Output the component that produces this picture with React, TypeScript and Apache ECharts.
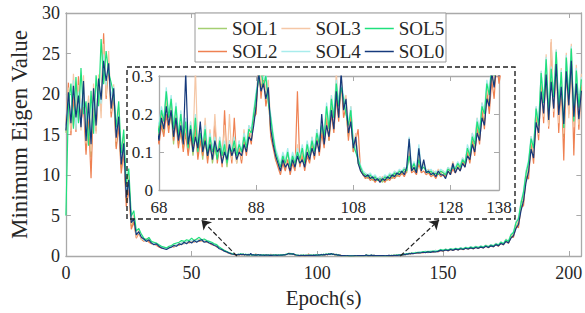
import { useEffect, useRef } from 'react';
import * as echarts from 'echarts';

// ---- x sampling (epochs) ----
const earlyEpochs = Array.from({ length: 68 }, (_, i) => i); // 0..67
const midEpochs = Array.from({ length: 141 }, (_, i) => 68 + i * 0.5); // 68..138 step 0.5
const lateEpochs = Array.from({ length: 67 }, (_, i) => 139 + i); // 139..205
const epochs = [...earlyEpochs, ...midEpochs, ...lateEpochs];

// ---- tick labels ----
const mainXTicks = [0, 50, 100, 150, 200];
const insetXTicks = [68, 88, 108, 128, 138];
const insetYTicks = [0, 0.1, 0.2, 0.3];

// ---- SOL1 ----
const sol1Early = [
  15.2, 18.9, 15.8, 20.1, 16.6, 20.7, 16.2, 20.9, 13.1, 19.4,
  12.2, 19.9, 15.8, 21.2, 17.9, 25.6, 20.1, 24.0, 17.6, 20.3,
  13.5, 16.6, 10.8, 13.2, 6.9, 8.8, 3.7, 4.4, 2.4, 2.9,
  2.2, 2.0, 1.9, 1.9, 1.7, 1.5, 1.4, 1.3, 1.1, 1.0,
  0.9, 1.05, 1.2, 1.25, 1.3, 1.45, 1.5, 1.6, 1.7, 1.7,
  1.8, 1.8, 1.85, 2.0, 1.9, 1.9, 1.75, 1.7, 1.55, 1.4,
  1.25, 1.0, 0.85, 0.62, 0.5, 0.36, 0.26, 0.19,
];
const sol1Mid = [
  0.14, 0.18, 0.15, 0.24, 0.16, 0.20, 0.12, 0.20, 0.12, 0.15,
  0.11, 0.16, 0.10, 0.15, 0.09, 0.15, 0.09, 0.14, 0.08, 0.14,
  0.08, 0.13, 0.07, 0.11, 0.08, 0.12, 0.08, 0.11, 0.06, 0.12,
  0.08, 0.12, 0.07, 0.11, 0.08, 0.13, 0.10, 0.15, 0.14, 0.18,
  0.23, 0.30, 0.27, 0.30, 0.25, 0.25, 0.15, 0.13, 0.08, 0.065,
  0.05, 0.075, 0.055, 0.08, 0.05, 0.08, 0.055, 0.09, 0.065, 0.10,
  0.06, 0.10, 0.075, 0.12, 0.085, 0.14, 0.10, 0.16, 0.12, 0.20,
  0.13, 0.22, 0.16, 0.27, 0.20, 0.28, 0.22, 0.21, 0.14, 0.19,
  0.10, 0.12, 0.07, 0.055, 0.04, 0.035, 0.03, 0.035, 0.025, 0.03,
  0.025, 0.03, 0.02, 0.03, 0.025, 0.035, 0.03, 0.04, 0.035, 0.045,
  0.04, 0.05, 0.045, 0.11, 0.05, 0.055, 0.045, 0.09, 0.05, 0.07,
  0.045, 0.05, 0.04, 0.05, 0.04, 0.045, 0.04, 0.05, 0.035, 0.05,
  0.045, 0.065, 0.05, 0.065, 0.055, 0.08, 0.065, 0.10, 0.075, 0.13,
  0.11, 0.17, 0.14, 0.20, 0.18, 0.25, 0.23, 0.30, 0.28, 0.32,
  0.31,
];
const sol1Late = [
  0.38, 0.43, 0.40, 0.49, 0.44, 0.53, 0.48, 0.58, 0.52, 0.60,
  0.73, 0.64, 0.78, 0.69, 0.84, 0.73, 0.89, 0.79, 0.94, 0.83,
  1.00, 0.89, 1.06, 0.94, 1.11, 0.99, 1.16, 1.04, 1.25, 1.09,
  1.30, 1.20, 1.46, 1.30, 1.62, 1.45, 1.90, 1.70, 2.30, 2.70,
  3.60, 4.20, 5.90, 7.20, 9.50, 10.9, 13.6, 12.6, 17.0, 15.6,
  21.2, 17.9, 22.9, 16.2, 21.9, 18.8, 24.3, 16.9, 21.5, 14.7,
  23.1, 18.2, 24.7, 16.1, 21.9, 17.4, 20.6,
];

// ---- SOL2 ----
const sol2Early = [
  16.1, 21.4, 14.9, 19.6, 15.3, 22.2, 16.7, 18.4, 12.5, 17.2,
  9.6, 19.5, 15.4, 20.8, 18.2, 27.5, 19.4, 23.6, 17.1, 19.8,
  13.2, 16.1, 10.2, 12.8, 6.1, 8.3, 3.3, 4.2, 2.2, 2.8,
  2.1, 1.8, 2.1, 1.7, 1.5, 1.6, 1.3, 1.1, 1.0, 0.95,
  0.9, 1.1, 1.2, 1.1, 1.4, 1.3, 1.6, 1.5, 1.8, 1.6,
  1.9, 1.7, 2.0, 1.8, 1.9, 1.8, 1.7, 1.6, 1.4, 1.35,
  1.1, 1.0, 0.75, 0.65, 0.45, 0.32, 0.24, 0.18,
];
const sol2Mid = [
  0.12, 0.17, 0.14, 0.20, 0.15, 0.23, 0.13, 0.18, 0.11, 0.16,
  0.10, 0.15, 0.09, 0.14, 0.11, 0.17, 0.08, 0.13, 0.09, 0.15,
  0.07, 0.13, 0.08, 0.18, 0.07, 0.12, 0.06, 0.21, 0.08, 0.13,
  0.07, 0.19, 0.08, 0.11, 0.07, 0.13, 0.09, 0.15, 0.12, 0.19,
  0.20, 0.34, 0.24, 0.31, 0.22, 0.26, 0.14, 0.11, 0.08, 0.06,
  0.04, 0.07, 0.05, 0.08, 0.04, 0.07, 0.05, 0.26, 0.06, 0.09,
  0.05, 0.09, 0.07, 0.12, 0.08, 0.14, 0.09, 0.15, 0.11, 0.19,
  0.13, 0.20, 0.15, 0.24, 0.18, 0.29, 0.19, 0.22, 0.13, 0.20,
  0.10, 0.13, 0.16, 0.05, 0.04, 0.03, 0.035, 0.025, 0.03, 0.02,
  0.03, 0.025, 0.035, 0.02, 0.03, 0.025, 0.035, 0.03, 0.04, 0.035,
  0.045, 0.035, 0.05, 0.10, 0.045, 0.05, 0.04, 0.07, 0.045, 0.05,
  0.04, 0.045, 0.035, 0.04, 0.03, 0.045, 0.035, 0.04, 0.035, 0.05,
  0.04, 0.055, 0.045, 0.06, 0.05, 0.075, 0.06, 0.10, 0.07, 0.13,
  0.09, 0.16, 0.12, 0.21, 0.16, 0.26, 0.20, 0.29, 0.24, 0.34,
  0.28,
];
const sol2Late = [
  0.36, 0.31, 0.45, 0.38, 0.50, 0.42, 0.55, 0.46, 0.60, 0.51,
  0.68, 0.60, 0.77, 0.63, 0.82, 0.68, 0.88, 0.74, 0.92, 0.78,
  0.98, 0.84, 1.04, 0.88, 1.08, 0.93, 1.14, 0.98, 1.22, 1.02,
  1.30, 1.12, 1.45, 1.20, 1.60, 1.35, 1.90, 1.55, 2.40, 2.30,
  3.70, 3.50, 6.00, 6.20, 9.80, 9.50, 13.9, 11.4, 17.3, 14.3,
  21.1, 16.4, 23.5, 15.7, 26.4, 17.1, 24.2, 15.2, 21.8, 11.8,
  23.4, 17.5, 25.3, 12.4, 22.2, 15.6, 21.1,
];

// ---- SOL3 ----
const sol3Early = [
  16.5, 20.8, 15.4, 22.5, 16.9, 21.1, 15.5, 22.3, 13.9, 19.8,
  12.9, 21.3, 15.1, 22.4, 17.0, 26.2, 19.8, 25.3, 17.8, 21.2,
  14.1, 18.4, 11.6, 14.8, 7.5, 10.1, 3.9, 5.1, 2.3, 3.2,
  2.0, 2.1, 1.8, 2.2, 1.6, 1.6, 1.4, 1.3, 1.05, 1.0,
  0.85, 1.1, 1.15, 1.35, 1.25, 1.55, 1.45, 1.75, 1.6, 1.85,
  1.7, 2.0, 1.75, 2.05, 1.85, 1.95, 1.7, 1.75, 1.5, 1.45,
  1.15, 1.05, 0.8, 0.68, 0.48, 0.38, 0.27, 0.21,
];
const sol3Mid = [
  0.16, 0.20, 0.17, 0.25, 0.18, 0.22, 0.15, 0.21, 0.13, 0.18,
  0.12, 0.17, 0.11, 0.18, 0.12, 0.32, 0.10, 0.16, 0.10, 0.19,
  0.09, 0.16, 0.08, 0.20, 0.09, 0.14, 0.08, 0.17, 0.07, 0.20,
  0.08, 0.14, 0.07, 0.13, 0.08, 0.16, 0.10, 0.17, 0.14, 0.21,
  0.24, 0.33, 0.28, 0.32, 0.26, 0.29, 0.17, 0.14, 0.09, 0.07,
  0.05, 0.09, 0.06, 0.10, 0.05, 0.09, 0.06, 0.12, 0.07, 0.11,
  0.06, 0.11, 0.08, 0.14, 0.09, 0.16, 0.11, 0.18, 0.13, 0.21,
  0.15, 0.25, 0.17, 0.31, 0.21, 0.30, 0.23, 0.25, 0.16, 0.22,
  0.11, 0.15, 0.08, 0.06, 0.045, 0.04, 0.04, 0.035, 0.03, 0.035,
  0.03, 0.035, 0.025, 0.035, 0.03, 0.04, 0.035, 0.05, 0.04, 0.05,
  0.045, 0.06, 0.05, 0.12, 0.055, 0.065, 0.05, 0.10, 0.055, 0.075,
  0.05, 0.055, 0.045, 0.05, 0.04, 0.055, 0.045, 0.05, 0.04, 0.06,
  0.05, 0.075, 0.05, 0.07, 0.06, 0.085, 0.07, 0.11, 0.085, 0.15,
  0.12, 0.19, 0.15, 0.23, 0.19, 0.27, 0.24, 0.32, 0.29, 0.36,
  0.33,
];
const sol3Late = [
  0.44, 0.39, 0.52, 0.45, 0.58, 0.49, 0.62, 0.54, 0.69, 0.58,
  0.79, 0.68, 0.85, 0.72, 0.90, 0.77, 0.96, 0.82, 1.02, 0.87,
  1.08, 0.92, 1.14, 0.97, 1.20, 1.03, 1.25, 1.08, 1.35, 1.14,
  1.42, 1.24, 1.58, 1.33, 1.76, 1.50, 2.10, 1.75, 2.70, 2.60,
  4.30, 4.10, 6.80, 7.00, 10.6, 10.2, 14.8, 12.4, 18.4, 15.0,
  22.8, 17.2, 24.9, 16.0, 26.8, 17.8, 25.5, 16.4, 23.2, 15.1,
  25.1, 17.0, 26.2, 15.9, 23.6, 16.2, 22.5,
];

// ---- SOL4 ----
const sol4Early = [
  16.0, 19.2, 16.9, 21.7, 15.6, 20.3, 18.1, 21.0, 14.5, 18.0,
  14.7, 19.1, 16.9, 20.4, 18.8, 24.9, 21.1, 23.8, 19.7, 20.9,
  15.2, 17.4, 12.2, 13.6, 8.1, 9.1, 4.4, 4.7, 2.7, 2.9,
  2.4, 1.95, 1.85, 2.05, 1.65, 1.55, 1.5, 1.25, 1.15, 0.95,
  0.95, 1.0, 1.25, 1.2, 1.45, 1.4, 1.65, 1.55, 1.85, 1.75,
  1.95, 1.75, 1.95, 1.9, 2.05, 1.8, 1.85, 1.65, 1.6, 1.35,
  1.3, 0.95, 0.85, 0.6, 0.52, 0.34, 0.28, 0.2,
];
const sol4Mid = [
  0.17, 0.22, 0.19, 0.27, 0.20, 0.25, 0.17, 0.23, 0.15, 0.21,
  0.14, 0.19, 0.12, 0.18, 0.13, 0.20, 0.11, 0.17, 0.12, 0.17,
  0.10, 0.15, 0.11, 0.14, 0.09, 0.14, 0.10, 0.13, 0.08, 0.13,
  0.10, 0.14, 0.09, 0.13, 0.10, 0.15, 0.12, 0.17, 0.16, 0.21,
  0.26, 0.30, 0.33, 0.29, 0.31, 0.24, 0.20, 0.15, 0.11, 0.09,
  0.07, 0.10, 0.08, 0.11, 0.07, 0.10, 0.08, 0.11, 0.09, 0.12,
  0.08, 0.13, 0.10, 0.14, 0.11, 0.16, 0.13, 0.18, 0.15, 0.23,
  0.17, 0.25, 0.20, 0.29, 0.23, 0.28, 0.25, 0.21, 0.18, 0.22,
  0.13, 0.11, 0.09, 0.065, 0.05, 0.045, 0.04, 0.045, 0.035, 0.04,
  0.03, 0.035, 0.03, 0.04, 0.035, 0.045, 0.04, 0.05, 0.045, 0.055,
  0.05, 0.06, 0.055, 0.14, 0.06, 0.075, 0.055, 0.12, 0.06, 0.065,
  0.055, 0.05, 0.055, 0.045, 0.05, 0.045, 0.055, 0.05, 0.045, 0.06,
  0.055, 0.065, 0.06, 0.075, 0.065, 0.085, 0.075, 0.12, 0.10, 0.15,
  0.13, 0.19, 0.16, 0.23, 0.21, 0.29, 0.26, 0.34, 0.31, 0.36,
  0.34,
];
const sol4Late = [
  0.46, 0.42, 0.55, 0.48, 0.61, 0.52, 0.65, 0.57, 0.70, 0.62,
  0.82, 0.72, 0.87, 0.77, 0.92, 0.82, 0.97, 0.87, 1.03, 0.92,
  1.09, 0.98, 1.14, 1.03, 1.19, 1.08, 1.25, 1.13, 1.33, 1.18,
  1.40, 1.28, 1.55, 1.40, 1.75, 1.55, 2.05, 1.85, 2.70, 3.00,
  4.20, 4.80, 6.70, 8.10, 10.5, 11.9, 14.8, 13.6, 18.5, 16.4,
  22.9, 19.1, 24.6, 17.8, 23.4, 19.9, 25.5, 18.3, 23.0, 16.1,
  24.8, 19.7, 25.9, 16.9, 23.2, 18.6, 22.1,
];

// ---- SOL5 ----
const sol5Early = [
  5.0, 18.6, 21.3, 15.7, 22.1, 16.4, 23.2, 17.5, 19.1, 13.6,
  20.4, 15.1, 22.3, 18.5, 26.8, 21.2, 25.3, 22.6, 21.4, 19.9,
  15.9, 19.1, 12.7, 15.6, 8.9, 10.8, 4.9, 5.6, 3.1, 3.4,
  2.7, 2.2, 2.0, 2.3, 1.8, 1.7, 1.6, 1.4, 1.2, 1.1,
  1.0, 1.2, 1.3, 1.5, 1.6, 1.7, 1.9, 1.8, 2.0, 1.9,
  2.2, 1.9, 2.1, 2.3, 2.0, 2.1, 1.9, 1.8, 1.7, 1.5,
  1.4, 1.1, 0.9, 0.7, 0.55, 0.4, 0.3, 0.22,
];
const sol5Mid = [
  0.15, 0.21, 0.18, 0.26, 0.19, 0.24, 0.16, 0.22, 0.14, 0.20,
  0.13, 0.18, 0.11, 0.17, 0.12, 0.19, 0.10, 0.15, 0.11, 0.16,
  0.09, 0.14, 0.10, 0.12, 0.08, 0.13, 0.09, 0.12, 0.07, 0.11,
  0.10, 0.13, 0.09, 0.12, 0.10, 0.14, 0.11, 0.16, 0.15, 0.20,
  0.25, 0.29, 0.32, 0.27, 0.30, 0.23, 0.19, 0.14, 0.10, 0.08,
  0.06, 0.09, 0.07, 0.10, 0.06, 0.09, 0.07, 0.10, 0.08, 0.11,
  0.07, 0.12, 0.09, 0.13, 0.10, 0.15, 0.12, 0.17, 0.14, 0.22,
  0.16, 0.24, 0.19, 0.28, 0.22, 0.27, 0.24, 0.20, 0.17, 0.21,
  0.12, 0.10, 0.08, 0.06, 0.045, 0.04, 0.035, 0.04, 0.03, 0.035,
  0.025, 0.03, 0.025, 0.035, 0.03, 0.04, 0.035, 0.045, 0.04, 0.05,
  0.045, 0.055, 0.05, 0.09, 0.055, 0.07, 0.05, 0.08, 0.055, 0.06,
  0.05, 0.045, 0.05, 0.04, 0.045, 0.04, 0.05, 0.045, 0.04, 0.055,
  0.05, 0.06, 0.055, 0.07, 0.06, 0.08, 0.07, 0.11, 0.09, 0.14,
  0.12, 0.18, 0.15, 0.22, 0.20, 0.28, 0.25, 0.33, 0.30, 0.35,
  0.32,
];
const sol5Late = [
  0.40, 0.46, 0.43, 0.53, 0.47, 0.57, 0.51, 0.62, 0.56, 0.64,
  0.78, 0.70, 0.83, 0.74, 0.88, 0.80, 0.93, 0.84, 0.98, 0.90,
  1.05, 0.95, 1.10, 1.00, 1.15, 1.05, 1.20, 1.10, 1.30, 1.15,
  1.35, 1.25, 1.50, 1.35, 1.70, 1.50, 2.00, 1.80, 2.60, 2.90,
  4.10, 4.60, 6.50, 7.90, 10.2, 11.6, 14.5, 13.3, 18.2, 16.1,
  22.6, 18.9, 24.3, 17.5, 23.1, 19.6, 25.2, 18.1, 22.7, 15.8,
  24.5, 19.4, 25.6, 16.6, 22.9, 18.3, 21.8,
];

// ---- SOL0 ----
const sol0Early = [
  15.5, 20.2, 16.4, 21.0, 17.1, 19.8, 15.9, 21.6, 14.2, 18.9,
  13.8, 20.7, 16.1, 21.9, 19.3, 24.1, 21.6, 23.8, 18.2, 20.7,
  14.6, 17.2, 11.3, 13.9, 7.2, 9.4, 4.1, 4.6, 2.6, 3.0,
  2.3, 2.1, 1.8, 2.0, 1.6, 1.4, 1.5, 1.2, 1.0, 0.9,
  0.8, 1.0, 1.1, 1.3, 1.2, 1.5, 1.4, 1.7, 1.5, 1.8,
  1.6, 1.9, 1.7, 1.9, 2.0, 1.7, 1.8, 1.6, 1.5, 1.3,
  1.2, 0.9, 0.8, 0.6, 0.5, 0.35, 0.25, 0.2,
];
const sol0Mid = [
  0.13, 0.19, 0.16, 0.22, 0.17, 0.21, 0.14, 0.19, 0.13, 0.17,
  0.12, 0.31, 0.12, 0.16, 0.10, 0.14, 0.11, 0.18, 0.10, 0.13,
  0.09, 0.12, 0.08, 0.13, 0.10, 0.11, 0.07, 0.10, 0.08, 0.12,
  0.09, 0.11, 0.08, 0.10, 0.09, 0.12, 0.10, 0.14, 0.13, 0.17,
  0.22, 0.31, 0.26, 0.28, 0.24, 0.27, 0.16, 0.12, 0.09, 0.07,
  0.05, 0.08, 0.06, 0.07, 0.05, 0.08, 0.06, 0.09, 0.07, 0.08,
  0.06, 0.10, 0.08, 0.11, 0.09, 0.13, 0.10, 0.20, 0.12, 0.17,
  0.14, 0.21, 0.16, 0.26, 0.19, 0.31, 0.21, 0.24, 0.15, 0.18,
  0.11, 0.14, 0.07, 0.05, 0.04, 0.035, 0.04, 0.03, 0.035, 0.025,
  0.03, 0.02, 0.03, 0.025, 0.035, 0.03, 0.04, 0.035, 0.045, 0.04,
  0.05, 0.04, 0.06, 0.135, 0.05, 0.06, 0.045, 0.11, 0.05, 0.08,
  0.045, 0.05, 0.04, 0.045, 0.035, 0.05, 0.04, 0.04, 0.03, 0.05,
  0.04, 0.07, 0.045, 0.06, 0.05, 0.07, 0.06, 0.09, 0.08, 0.12,
  0.10, 0.15, 0.13, 0.19, 0.17, 0.24, 0.22, 0.31, 0.27, 0.33,
  0.30,
];
const sol0Late = [
  0.34, 0.40, 0.37, 0.46, 0.41, 0.50, 0.45, 0.54, 0.49, 0.57,
  0.70, 0.62, 0.74, 0.66, 0.80, 0.70, 0.85, 0.76, 0.90, 0.80,
  0.95, 0.86, 1.00, 0.90, 1.05, 0.95, 1.10, 1.00, 1.20, 1.05,
  1.25, 1.15, 1.40, 1.25, 1.55, 1.40, 1.80, 1.60, 2.20, 2.50,
  3.40, 3.90, 5.60, 6.80, 9.10, 10.4, 13.2, 12.1, 16.5, 15.2,
  20.3, 17.6, 22.4, 16.8, 21.5, 18.2, 23.7, 17.4, 20.9, 16.3,
  22.8, 18.6, 24.1, 17.2, 21.3, 16.9, 20.4,
];

const seriesNames = ['SOL1', 'SOL2', 'SOL3', 'SOL4', 'SOL5', 'SOL0'];
const seriesColors = ['#a4cf72', '#ef8152', '#f5c7a6', '#a8ecec', '#1fe07c', '#163a7c'];
const seriesValues = [
  [...sol1Early, ...sol1Mid, ...sol1Late],
  [...sol2Early, ...sol2Mid, ...sol2Late],
  [...sol3Early, ...sol3Mid, ...sol3Late],
  [...sol4Early, ...sol4Mid, ...sol4Late],
  [...sol5Early, ...sol5Mid, ...sol5Late],
  [...sol0Early, ...sol0Mid, ...sol0Late],
];

const FONT = 'Liberation Serif';
const AXIS_GRAY = '#a9a9a9';
const TEXT = '#262626';

function buildOption() {
  const axisLine = { show: true, onZero: false, lineStyle: { color: AXIS_GRAY, width: 1.3 } };
  const tick = (vals: number[] | undefined) => ({
    show: true,
    inside: true,
    length: 5,
    ...(vals ? { customValues: vals } : {}),
    lineStyle: { color: AXIS_GRAY, width: 1 },
  });
  const label = (size: number, margin: number, vals?: number[], fmt?: (v: number) => string) => ({
    show: true,
    fontSize: size,
    fontFamily: FONT,
    color: TEXT,
    margin,
    ...(vals ? { customValues: vals } : {}),
    ...(fmt ? { formatter: fmt } : {}),
  });
  const noLabel = { show: false };

  const series: any[] = [];
  seriesNames.forEach((name, k) => {
    const data = epochs.map((x, i) => [x, seriesValues[k][i]]);
    const base = {
      type: 'line',
      name,
      data,
      symbol: 'none',
      showSymbol: false,
      silent: true,
      clip: true,
      lineStyle: { width: 1.2, color: seriesColors[k] },
      itemStyle: { color: seriesColors[k] },
      z: 2,
    };
    series.push({ ...base, xAxisIndex: 0, yAxisIndex: 0 });
    series.push({ ...base, xAxisIndex: 2, yAxisIndex: 2 });
  });

  series.push({
    type: 'line',
    name: 'arrows',
    xAxisIndex: 0,
    yAxisIndex: 0,
    data: [],
    silent: true,
    markLine: {
      silent: true,
      symbol: ['none', 'arrow'],
      symbolSize: 9,
      label: { show: false },
      lineStyle: { color: '#222', type: 'dashed', width: 1.2 },
      data: [
        [{ coord: [68, 0] }, { x: 201.5, y: 220 }],
        [{ coord: [133, 0] }, { x: 439, y: 220 }],
      ],
    },
  });

  const legendCommon = {
    orient: 'horizontal',
    icon: 'rect',
    itemWidth: 29,
    itemHeight: 1.5,
    itemGap: 4,
    padding: 0,
    z: 6,
    textStyle: { fontSize: 19, fontFamily: FONT, color: TEXT },
  };

  return {
    animation: false,
    backgroundColor: '#ffffff',
    textStyle: { fontFamily: FONT },
    grid: [
      { left: 54, top: 13, right: 1, bottom: 54, containLabel: false },
      { left: 159, top: 76, width: 340, height: 114, show: true, backgroundColor: '#ffffff', borderWidth: 0 },
    ],
    legend: [
      { ...legendCommon, data: ['SOL1', 'SOL3', 'SOL5'], left: 198, top: 19 },
      { ...legendCommon, data: ['SOL2', 'SOL4', 'SOL0'], left: 198, top: 42 },
    ],
    xAxis: [
      {
        type: 'value', gridIndex: 0, min: 0, max: 205, position: 'bottom',
        axisLine, axisTick: tick(mainXTicks), axisLabel: label(18, 8, mainXTicks),
        splitLine: { show: false },
        name: 'Epoch(s)', nameLocation: 'middle', nameGap: 31,
        nameTextStyle: { fontSize: 21, fontFamily: FONT, color: TEXT },
      },
      {
        type: 'value', gridIndex: 0, min: 0, max: 205, position: 'top',
        axisLine, axisTick: tick(mainXTicks), axisLabel: noLabel, splitLine: { show: false },
      },
      {
        type: 'value', gridIndex: 1, min: 68, max: 138, position: 'bottom',
        axisLine, axisTick: tick(insetXTicks), axisLabel: label(17, 9, insetXTicks),
        splitLine: { show: false },
      },
      {
        type: 'value', gridIndex: 1, min: 68, max: 138, position: 'top',
        axisLine, axisTick: tick(insetXTicks), axisLabel: noLabel, splitLine: { show: false },
      },
    ],
    yAxis: [
      {
        type: 'value', gridIndex: 0, min: 0, max: 30, interval: 5, position: 'left',
        axisLine, axisTick: tick(undefined), axisLabel: label(18, 6),
        splitLine: { show: false },
        name: 'Minimum Eigen Value', nameLocation: 'middle', nameGap: 27, nameRotate: 90,
        nameTextStyle: { fontSize: 23, fontFamily: FONT, color: TEXT },
      },
      {
        type: 'value', gridIndex: 0, min: 0, max: 30, interval: 5, position: 'right',
        axisLine, axisTick: tick(undefined), axisLabel: noLabel, splitLine: { show: false },
      },
      {
        type: 'value', gridIndex: 1, min: 0, max: 0.3, position: 'left',
        axisLine, axisTick: tick(insetYTicks),
        axisLabel: label(17, 6, insetYTicks, (v: number) => (v === 0 ? '0' : v.toFixed(1))),
        splitLine: { show: false },
      },
      {
        type: 'value', gridIndex: 1, min: 0, max: 0.3, position: 'right',
        axisLine, axisTick: tick(insetYTicks), axisLabel: noLabel, splitLine: { show: false },
      },
    ],
    graphic: [
      {
        type: 'rect',
        z: 5,
        silent: true,
        shape: { x: 195, y: 13, width: 251, height: 49 },
        style: { fill: '#ffffff', stroke: '#9a9a9a', lineWidth: 1 },
      },
      {
        type: 'rect',
        z: 5,
        silent: true,
        shape: { x: 127, y: 67, width: 388, height: 152 },
        style: { fill: 'none', stroke: '#222222', lineWidth: 1.4, lineDash: [5, 3] },
      },
    ],
    series,
  };
}

export default function App() {
  const ref = useRef<HTMLDivElement>(null);
  useEffect(() => {
    document.body.style.margin = '0';
    const chart = echarts.init(ref.current as HTMLDivElement, null, { renderer: 'svg' });
    chart.setOption(buildOption() as any);
    return () => chart.dispose();
  }, []);
  return <div ref={ref} style={{ width: 585, height: 313 }} />;
}
